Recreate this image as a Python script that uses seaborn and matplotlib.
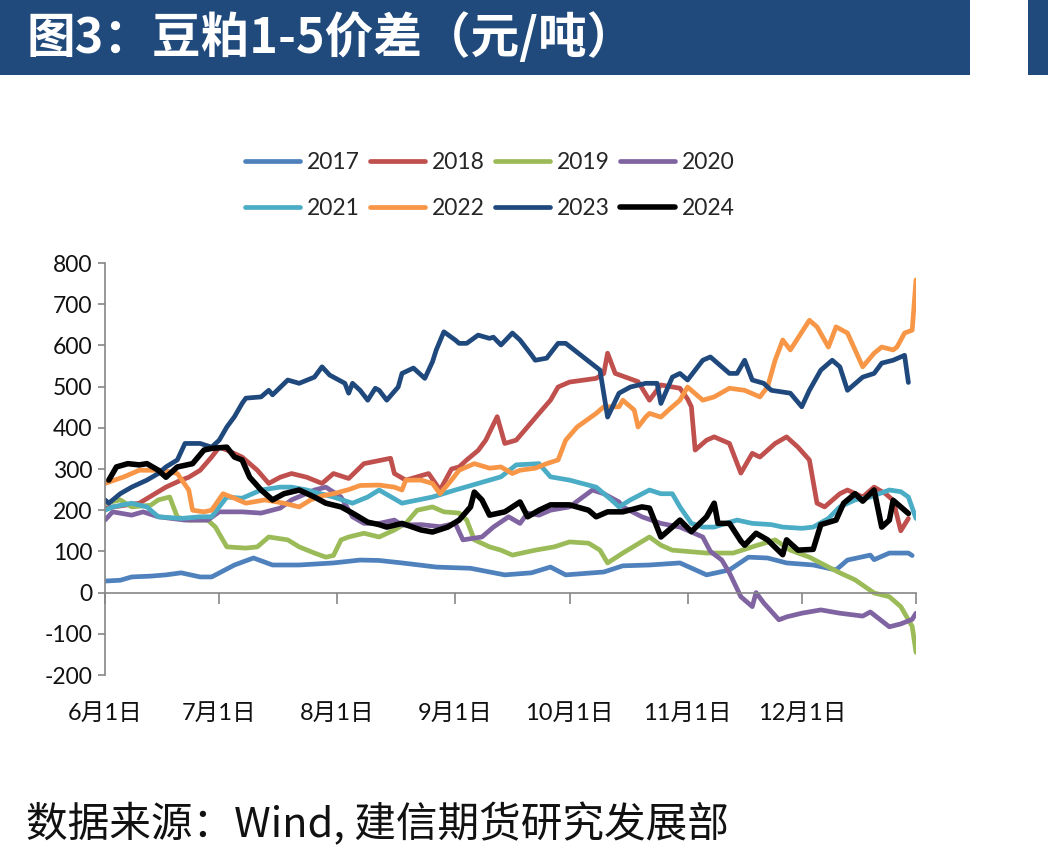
import matplotlib
matplotlib.use("Agg")
import matplotlib.pyplot as plt
import seaborn as sns
from matplotlib.patches import Rectangle

# ---------------- data (x = days since 6月1日) ----------------
years = ["2017", "2018", "2019", "2020", "2021", "2022", "2023", "2024"]
colors = ["#4F81BD", "#C0504D", "#9BBB59", "#8064A2", "#4BACC6", "#F79646", "#1F497D", "#000000"]

d2017 = [0, 4, 7, 12, 16, 20, 25, 28, 34, 39, 44, 51, 60, 67, 72, 78, 87, 96, 105, 112, 117, 121, 131, 136, 143,
         151, 158, 164, 169, 174, 179, 186, 192, 195, 201, 202, 206, 211, 212]
v2017 = [28, 30, 38, 40, 43, 48, 38, 38, 67, 84, 67, 67, 72, 79, 78, 72, 62, 59, 43, 48, 62, 43, 50, 65, 67,
         72, 43, 55, 86, 84, 72, 67, 55, 79, 91, 80, 96, 96, 90]

d2018 = [0, 9, 16, 20, 22, 25, 28, 30, 32, 36, 40, 43, 46, 49, 53, 57, 60, 64, 68, 75, 76, 79, 85, 88, 91, 93, 95,
         98, 100, 103, 105, 108, 114, 117, 119, 122, 129, 131, 132, 134, 140, 143, 146, 151, 153, 154, 155, 158,
         160, 164, 167, 170, 172, 176, 179, 182, 185, 187, 189, 193, 195, 199, 202, 205, 207, 209, 211]
v2018 = [205, 217, 256, 273, 280, 297, 329, 353, 346, 329, 297, 265, 280, 289, 280, 265, 289, 277, 313, 326, 289,
         273, 289, 249, 300, 305, 322, 345, 370, 427, 362, 370, 435, 467, 499, 511, 520, 532, 581, 532, 512, 467,
         504, 496, 470, 451, 346, 370, 378, 362, 290, 338, 329, 362, 378, 353, 322, 217, 208, 240, 249, 232, 256,
         240, 224, 150, 180]

d2019 = [0, 4, 7, 12, 14, 17, 19, 22, 27, 29, 32, 37, 40, 43, 48, 51, 55, 58, 60, 62, 64, 68, 72, 76, 79, 82, 86,
         89, 93, 95, 97, 101, 104, 107, 113, 118, 122, 127, 130, 132, 136, 143, 146, 149, 158, 165, 170, 176, 180,
         185, 190, 193, 197, 202, 206, 209, 212, 213]
v2019 = [217, 225, 208, 212, 225, 232, 183, 176, 176, 159, 111, 108, 111, 135, 128, 111, 96, 86, 90, 128, 135, 144,
         135, 152, 168, 200, 208, 196, 193, 176, 128, 111, 103, 91, 103, 111, 123, 120, 103, 72, 96, 135, 115, 103,
         96, 96, 111, 128, 103, 86, 62, 48, 31, -1, -10, -34, -82, -145]

d2020 = [0, 2, 7, 10, 14, 21, 27, 30, 36, 41, 46, 49, 55, 58, 62, 65, 68, 72, 76, 78, 83, 88, 92, 94, 99, 102, 106,
         109, 111, 114, 117, 122, 128, 131, 135, 136, 141, 146, 151, 157, 159, 162, 164, 167, 170, 171, 173, 177,
         179, 183, 188, 193, 199, 201, 206, 209, 212, 213]
v2020 = [176, 196, 188, 196, 184, 176, 176, 196, 196, 193, 205, 225, 249, 256, 232, 184, 168, 168, 176, 164, 165,
         160, 168, 128, 135, 159, 184, 168, 193, 188, 200, 208, 249, 240, 220, 208, 184, 168, 159, 135, 100, 79, 48,
         -10, -34, 0, -25, -66, -59, -50, -42, -50, -57, -47, -83, -76, -65, -50]

d2021 = [0, 2, 7, 11, 14, 20, 25, 28, 32, 36, 41, 46, 49, 53, 60, 65, 69, 72, 78, 86, 92, 98, 104, 108, 114, 117,
         122, 129, 133, 135, 138, 143, 146, 149, 151, 154, 157, 160, 163, 166, 170, 175, 178, 183, 186, 190, 193,
         197, 201, 206, 209, 211, 213]
v2021 = [200, 208, 217, 208, 184, 180, 184, 184, 232, 229, 249, 256, 256, 249, 232, 217, 232, 249, 217, 232, 249,
         265, 281, 310, 313, 281, 273, 256, 225, 208, 225, 249, 240, 240, 208, 168, 159, 159, 168, 176, 168, 165,
         159, 156, 159, 180, 208, 225, 232, 249, 245, 232, 180]

d2022 = [0, 5, 9, 15, 19, 22, 23, 26, 28, 31, 34, 37, 42, 47, 51, 54, 57, 60, 64, 67, 72, 76, 78, 79, 83, 86, 88,
         91, 93, 97, 101, 104, 107, 109, 113, 116, 119, 121, 124, 129, 131, 135, 136, 139, 140, 142, 143, 146, 148,
         151, 153, 157, 160, 164, 168, 172, 174, 176, 178, 180, 185, 187, 190, 192, 195, 199, 202, 204, 207, 208,
         210, 212, 213]
v2022 = [265, 281, 297, 297, 289, 249, 200, 196, 200, 240, 229, 217, 225, 217, 208, 225, 235, 240, 250, 260, 261,
         256, 249, 273, 273, 265, 240, 273, 297, 313, 302, 305, 289, 297, 302, 313, 322, 370, 402, 435, 451, 451,
         467, 443, 402, 426, 435, 426, 443, 467, 499, 467, 475, 496, 491, 475, 499, 564, 613, 589, 661, 645, 596,
         645, 630, 548, 581, 596, 589, 596, 630, 637, 759]

d2023 = [0, 1, 4, 7, 11, 14, 16, 19, 21, 25, 28, 30, 32, 34, 36, 37, 41, 43, 44, 48, 51, 55, 57, 59, 63, 64, 65,
         67, 69, 71, 72, 74, 77, 78, 81, 84, 86, 87, 89, 92, 93, 95, 98, 101, 102, 104, 107, 109, 112, 113, 116,
         119, 121, 130, 132, 135, 138, 142, 145, 146, 149, 151, 153, 157, 159, 162, 164, 166, 168, 170, 173, 175,
         180, 183, 185, 188, 191, 193, 195, 199, 202, 204, 207, 210, 211]
v2023 = [225, 217, 240, 256, 273, 289, 305, 322, 362, 362, 353, 370, 402, 427, 459, 472, 475, 491, 480, 516, 508,
         523, 548, 528, 508, 484, 508, 491, 467, 496, 491, 467, 499, 532, 545, 520, 560, 589, 633, 613, 605, 605,
         625, 617, 620, 601, 630, 613, 577, 564, 569, 605, 605, 540, 426, 484, 499, 508, 508, 459, 523, 532, 516,
         564, 572, 548, 532, 532, 564, 516, 508, 491, 484, 451, 491, 540, 564, 548, 491, 523, 532, 557, 564, 576,
         510]

d2024 = [1, 3, 6, 9, 11, 14, 16, 19, 23, 26, 28, 32, 34, 36, 38, 41, 44, 47, 51, 55, 58, 62, 65, 69, 72, 74, 78,
         83, 86, 90, 93, 96, 97, 99, 101, 105, 107, 109, 111, 114, 117, 122, 127, 129, 132, 136, 141, 143, 146, 149,
         151, 154, 158, 160, 161, 164, 167, 168, 171, 174, 178, 179, 182, 186, 188, 192, 194, 197, 199, 202, 204,
         206, 207, 210, 211]
v2024 = [273, 305, 313, 310, 313, 297, 280, 305, 313, 346, 350, 353, 329, 322, 280, 249, 225, 240, 249, 232, 217,
         208, 193, 171, 165, 159, 168, 152, 147, 159, 176, 208, 244, 225, 188, 196, 208, 220, 184, 200, 213, 213,
         200, 184, 196, 196, 208, 205, 135, 159, 176, 148, 184, 217, 168, 168, 125, 115, 144, 128, 92, 128, 103,
         105, 165, 176, 217, 240, 222, 249, 159, 176, 224, 200, 192]

days = [d2017, d2018, d2019, d2020, d2021, d2022, d2023, d2024]
vals = [v2017, v2018, v2019, v2020, v2021, v2022, v2023, v2024]

tick_days = [0, 30, 61, 92, 122, 153, 183, 213]
tick_labels = ["6月1日", "7月1日", "8月1日", "9月1日", "10月1日", "11月1日", "12月1日", ""]
y_ticks = [-200, -100, 0, 100, 200, 300, 400, 500, 600, 700, 800]

title = "图3：豆粕1-5价差（元/吨）"
source = "数据来源：Wind, 建信期货研究发展部"

# ---------------- drawing ----------------
sns.set_theme(style="white")
plt.rcParams["font.family"] = ["Lato", "Noto Sans CJK SC", "DejaVu Sans"]

W, H = 1048, 858
fig = plt.figure(figsize=(W / 100, H / 100), dpi=100)
fig.patch.set_facecolor("white")

ax = fig.add_axes([105 / W, 1 - 675 / H, (916 - 105) / W, (675 - 263) / H])

handles = []
for name, d, v, c in zip(years, days, vals, colors):
    lw = 4.0 if name == "2024" else 3.4
    sns.lineplot(x=d, y=v, ax=ax, color=c, linewidth=lw, legend=False, solid_capstyle="round")
    line = ax.lines[-1]
    line.set_label(name)
    handles.append(line)

ax.set_xlim(0, 213)
ax.set_ylim(-200, 800)
ax.set_yticks(y_ticks)
ax.set_yticklabels([str(t) for t in y_ticks])
ax.set_xticks(tick_days)
ax.set_xticklabels([])
ax.set_xlabel("")
ax.set_ylabel("")

gray = "#868686"
for s in ["top", "right"]:
    ax.spines[s].set_visible(False)
ax.spines["left"].set_color(gray)
ax.spines["left"].set_linewidth(1.2)
ax.spines["bottom"].set_position(("data", 0))
ax.spines["bottom"].set_color(gray)
ax.spines["bottom"].set_linewidth(1.2)
ax.tick_params(axis="y", left=True, direction="out", length=5, width=1.2, color=gray,
               labelsize=16.5, pad=4, labelcolor="#111111")
ax.tick_params(axis="x", bottom=True, direction="out", length=8, width=1.2, color=gray,
               labelbottom=False)

sec = ax.secondary_xaxis(0)
sec.set_xticks(tick_days)
sec.set_xticklabels(tick_labels)
sec.tick_params(axis="x", length=0, labelsize=17, pad=20, labelcolor="#111111")
sec.spines["bottom"].set_visible(False)

# legend (row-major order in a 4-column layout)
order = [0, 4, 1, 5, 2, 6, 3, 7]
fig.legend([handles[i] for i in order], [years[i] for i in order], ncol=4, loc="center",
           bbox_to_anchor=(490 / W, 1 - 185.5 / H), frameon=False, fontsize=16.5,
           handlelength=2.4, handletextpad=0.3, columnspacing=0.45, labelspacing=1.1)

# title bar
fig.add_artist(Rectangle((0, 1 - 75 / H), 970 / W, 75 / H, transform=fig.transFigure,
                         facecolor="#214A7C", edgecolor="none"))
fig.add_artist(Rectangle((1028 / W, 1 - 75 / H), 20 / W, 75 / H, transform=fig.transFigure,
                         facecolor="#214A7C", edgecolor="none"))
fig.text(26 / W, 1 - 38 / H, title, color="white", fontsize=35, fontweight="bold",
         va="center", ha="left", family=["Noto Sans CJK SC", "DejaVu Sans"])

fig.text(26 / W, 1 - 825 / H, source, color="#111111", fontsize=30, va="center", ha="left",
         family=["Noto Sans CJK SC", "DejaVu Sans"])

fig.savefig("out.png", dpi=100, facecolor="white")
